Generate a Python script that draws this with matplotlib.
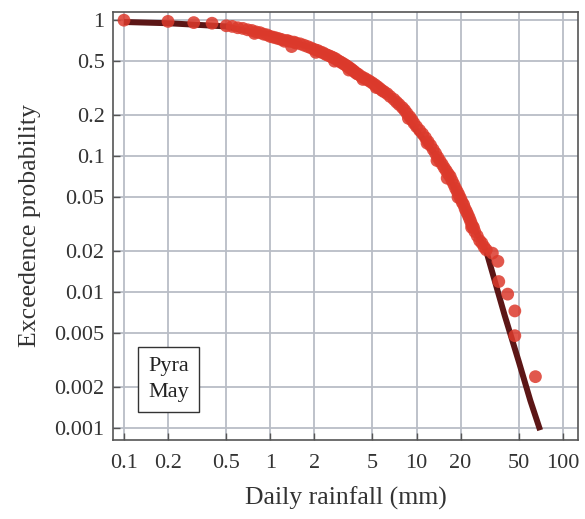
import matplotlib.pyplot as plt
import matplotlib
from matplotlib.ticker import FixedLocator, FixedFormatter, NullLocator

plt.rcParams['font.family'] = ['Liberation Serif', 'DejaVu Serif']

# observed exceedance probabilities (points)
obs_rain = [0.1, 0.2, 0.3, 0.4, 0.5, 0.55, 0.6, 0.65, 0.7, 0.75, 0.8, 0.85, 0.9,
            0.95, 1.0, 1.05, 1.1, 1.15, 1.2, 1.3, 1.35, 1.4, 1.45, 1.5, 1.6, 1.7,
            1.8, 1.9, 2.0, 2.1, 2.2, 2.3, 2.4, 2.5, 2.6, 2.7, 2.8, 2.9, 3.0, 3.1,
            3.2, 3.3, 3.4, 3.5, 3.6, 3.7, 3.8, 3.9, 4.0, 4.2, 4.3, 4.4, 4.6, 4.8,
            5.0, 5.2, 5.4, 5.6, 5.8, 6.0, 6.3, 6.6, 7.0, 7.3, 7.6, 8.0, 8.3, 8.6,
            9.0, 9.3, 9.6, 10, 10.5, 11, 11.5, 12, 12.5, 13, 13.5, 14, 14.5, 15,
            15.5, 16, 16.2, 16.5, 17, 17.5, 18, 18.5, 19, 19.5, 20, 20.5, 21,
            21.5, 22, 22.5, 23, 23.5, 24, 24.5, 25, 26, 27, 28, 29, 30, 33, 36,
            36.5, 42, 47, 47, 65,
            # a few points sitting a little off the main band
            0.78, 1.25, 2.05, 2.75, 3.45, 5.3, 8.8, 11.8, 13.8, 19.2, 23.8]
obs_prob = [1.0, 0.98, 0.96, 0.95, 0.91, 0.90, 0.88, 0.87, 0.85, 0.84, 0.82, 0.81,
            0.79, 0.78, 0.76, 0.75, 0.74, 0.73, 0.72, 0.71, 0.70, 0.64, 0.69, 0.68,
            0.67, 0.655, 0.64, 0.625, 0.61, 0.60, 0.585, 0.575, 0.56, 0.55, 0.54,
            0.53, 0.52, 0.505, 0.495, 0.485, 0.475, 0.465, 0.455, 0.445, 0.435,
            0.425, 0.415, 0.405, 0.40, 0.385, 0.367, 0.375, 0.365, 0.355, 0.345,
            0.335, 0.325, 0.315, 0.305, 0.298, 0.288, 0.275, 0.262, 0.25, 0.24,
            0.228, 0.218, 0.207, 0.195, 0.185, 0.175, 0.165, 0.155, 0.146, 0.137,
            0.128, 0.12, 0.112, 0.105, 0.098, 0.092, 0.087, 0.082, 0.078, 0.069,
            0.074, 0.071, 0.066, 0.062, 0.058, 0.055, 0.052, 0.049, 0.046, 0.044,
            0.041, 0.039, 0.037, 0.035, 0.033, 0.031, 0.030, 0.028, 0.026, 0.024,
            0.023, 0.0215, 0.0205, 0.0194, 0.0169, 0.012, 0.0097, 0.0073, 0.0048,
            0.0024,
            0.80, 0.70, 0.58, 0.50, 0.43, 0.32, 0.19, 0.125, 0.093, 0.050, 0.030]

# fitted distribution curve
fit_rain = [0.1, 0.2, 0.5, 0.7, 1.0, 1.5, 2.0, 3.0, 5.0, 7.0, 10, 15, 20, 25,
            30, 40, 50, 60, 70]
fit_prob = [0.97, 0.95, 0.90, 0.83, 0.79, 0.68, 0.62, 0.50, 0.356, 0.265, 0.155,
            0.089, 0.047, 0.029, 0.020, 0.0068, 0.0031, 0.0016, 0.00097]

xticks = [0.1, 0.2, 0.5, 1, 2, 5, 10, 20, 50, 100]
xlabels = ['0.1', '0.2', '0.5', '1', '2', '5', '10', '20', '50', '100']
yticks = [1, 0.5, 0.2, 0.1, 0.05, 0.02, 0.01, 0.005, 0.002, 0.001]
ylabels = ['1', '0.5', '0.2', '0.1', '0.05', '0.02', '0.01', '0.005', '0.002', '0.001']

fig = plt.figure(figsize=(5.85, 5.19), dpi=100)
ax = fig.add_axes([0.193, 0.152, 0.795, 0.825])

ax.plot(fit_rain, fit_prob, color='#5c1616', lw=4.3, solid_capstyle='butt', zorder=3)
ax.scatter(obs_rain, obs_prob, s=85, color='#dc3a2c', alpha=0.85, edgecolors='none', zorder=4)

ax.set_xscale('log')
ax.set_yscale('log')
ax.set_xlim(0.084, 127)
ax.set_ylim(0.00082, 1.15)

ax.xaxis.set_major_locator(FixedLocator(xticks))
ax.xaxis.set_major_formatter(FixedFormatter(xlabels))
ax.yaxis.set_major_locator(FixedLocator(yticks))
ax.yaxis.set_major_formatter(FixedFormatter(ylabels))
ax.xaxis.set_minor_locator(NullLocator())
ax.yaxis.set_minor_locator(NullLocator())

ax.grid(True, color='#b9bdc6', lw=1.3, zorder=0)
ax.set_axisbelow(True)
ax.tick_params(direction='in', length=5, width=1, color='#555555', labelsize=16,
               labelcolor='#333333')
ax.tick_params(axis='x', pad=10)
ax.tick_params(axis='y', pad=6)
for sp in ax.spines.values():
    sp.set_color('#555555')
    sp.set_linewidth(1.2)

ax.set_xlabel('Daily rainfall (mm)', fontsize=18.5, color='#333333', labelpad=10)
ax.set_ylabel('Exceedence probability', fontsize=18.5, color='#333333', labelpad=10)

ax.text(0.12, 0.142, 'Pyra\nMay', transform=ax.transAxes, ha='center', va='center',
        fontsize=16, color='#222222', linespacing=1.5, zorder=5,
        bbox=dict(boxstyle='square,pad=0.45', fc='white', ec='#333333', lw=1))

plt.savefig('out.png', dpi=100)
